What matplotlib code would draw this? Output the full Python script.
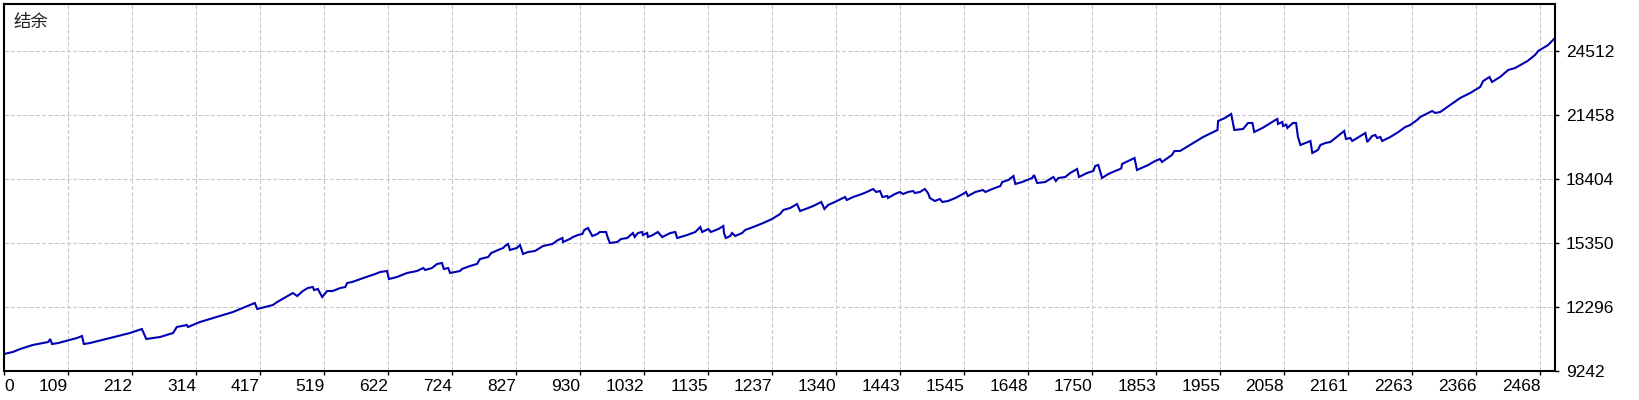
import matplotlib
matplotlib.use("Agg")
import matplotlib.pyplot as plt

# Balance curve (trade number, balance)
trade = [0, 14, 26, 46, 71, 74, 77, 87, 93, 117, 125, 128, 138, 170, 202, 221, 228, 250, 271, 277,
         293, 295, 314, 367, 402, 406, 431, 438, 463, 470, 479, 487, 495, 497, 503, 510, 518, 527,
         539, 547, 550, 558, 576, 595, 603, 614, 617, 630, 646, 662, 672, 675, 686, 694, 702, 705,
         712, 715, 723, 731, 734, 747, 758, 763, 776, 781, 792, 800, 803, 808, 811, 822, 827, 832,
         840, 851, 864, 879, 888, 895, 896, 907, 912, 920, 927, 930, 936, 943, 951, 955, 965, 968,
         971, 983, 989, 999, 1008, 1011, 1016, 1023, 1024, 1031, 1032, 1040, 1048, 1055, 1068, 1076,
         1079, 1095, 1108, 1116, 1119, 1129, 1133, 1145, 1153, 1154, 1157, 1164, 1167, 1172, 1183,
         1188, 1201, 1217, 1231, 1244, 1249, 1260, 1263, 1271, 1276, 1289, 1297, 1310, 1315, 1321,
         1335, 1348, 1351, 1361, 1375, 1383, 1393, 1398, 1404, 1408, 1416, 1417, 1428, 1436, 1441,
         1449, 1457, 1460, 1468, 1476, 1481, 1484, 1492, 1500, 1504, 1513, 1525, 1528, 1537, 1542,
         1545, 1557, 1569, 1573, 1584, 1597, 1600, 1610, 1618, 1621, 1632, 1648, 1651, 1656, 1669,
         1682, 1686, 1690, 1701, 1709, 1720, 1723, 1736, 1746, 1749, 1754, 1760, 1770, 1781, 1789,
         1791, 1792, 1802, 1812, 1816, 1834, 1845, 1853, 1856, 1872, 1876, 1885, 1909, 1922, 1945,
         1946, 1957, 1967, 1972, 1986, 1994, 2001, 2004, 2017, 2030, 2038, 2041, 2042, 2049, 2050,
         2054, 2055, 2057, 2066, 2071, 2074, 2078, 2090, 2094, 2097, 2106, 2110, 2118, 2126, 2138,
         2148, 2151, 2158, 2161, 2182, 2185, 2193, 2198, 2201, 2206, 2209, 2222, 2235, 2246, 2254,
         2265, 2270, 2289, 2294, 2302, 2318, 2334, 2350, 2366, 2371, 2381, 2385, 2398, 2411, 2422,
         2442, 2454, 2459, 2467, 2475, 2486]
balance = [10053, 10149, 10292, 10483, 10626, 10769, 10530, 10578, 10626, 10817, 10912, 10530, 10578,
           10817, 11055, 11246, 10769, 10864, 11055, 11342, 11437, 11342, 11580, 12057, 12487, 12201,
           12392, 12535, 12964, 12821, 13060, 13203, 13250, 13107, 13155, 12773, 13060, 13060, 13203,
           13250, 13441, 13489, 13680, 13871, 13966, 14014, 13632, 13728, 13919, 14014, 14157, 14062,
           14157, 14348, 14396, 14109, 14157, 13919, 13966, 14014, 14109, 14253, 14348, 14587, 14682,
           14873, 15016, 15112, 15207, 15302, 15016, 15112, 15255, 14825, 14921, 14968, 15207, 15302,
           15493, 15589, 15398, 15541, 15636, 15732, 15780, 15971, 16066, 15684, 15780, 15875, 15875,
           15589, 15350, 15398, 15541, 15589, 15827, 15636, 15827, 15875, 15732, 15827, 15636, 15732,
           15875, 15636, 15827, 15875, 15589, 15732, 15875, 16114, 15875, 16018, 15875, 16018, 16161,
           15827, 15589, 15684, 15827, 15684, 15827, 15971, 16114, 16305, 16495, 16734, 16925, 17020,
           17068, 17211, 16877, 17020, 17116, 17307, 16973, 17164, 17354, 17545, 17402, 17545, 17688,
           17784, 17927, 17784, 17832, 17545, 17593, 17498, 17688, 17784, 17688, 17784, 17832, 17736,
           17784, 17927, 17736, 17498, 17354, 17450, 17307, 17354, 17498, 17545, 17688, 17784, 17593,
           17784, 17879, 17784, 17927, 18070, 18261, 18357, 18547, 18166, 18261, 18452, 18595, 18213,
           18261, 18500, 18309, 18452, 18500, 18691, 18881, 18500, 18691, 18786, 19025, 19072, 18452,
           18643, 18786, 18881, 18929, 19120, 19263, 19406, 18834, 19072, 19263, 19359, 19215, 19550,
           19740, 19740, 20170, 20408, 20743, 21172, 21315, 21506, 20743, 20790, 21077, 21077, 20647,
           20838, 21077, 21220, 21267, 21029, 21124, 20933, 20981, 21029, 20838, 21077, 21077, 20408,
           20027, 20170, 20218, 19645, 19788, 20027, 20122, 20170, 20456, 20695, 20313, 20361, 20218,
           20599, 20170, 20456, 20504, 20361, 20408, 20218, 20408, 20647, 20886, 20981, 21220, 21363,
           21649, 21554, 21601, 21936, 22270, 22508, 22794, 23081, 23272, 23033, 23272, 23606, 23701,
           24035, 24322, 24512, 24656, 24799, 25133]

x_labels = ["0", "109", "212", "314", "417", "519", "622", "724", "827", "930", "1032", "1135",
            "1237", "1340", "1443", "1545", "1648", "1750", "1853", "1955", "2058", "2161", "2263",
            "2366", "2468"]
y_ticks = [9242, 12296, 15350, 18404, 21458, 24512]
title = "结余"

fig = plt.figure(figsize=(16.4, 4.0), dpi=100)
ax = fig.add_axes([4 / 1640, 29 / 400, 1551 / 1640, 367 / 400])

ax.plot(trade, balance, color="#0000b4", linewidth=1.5, solid_joinstyle="miter")

ax.set_xlim(0, 2486)
ax.set_ylim(9242, 26755)

step = 102.6
ax.set_xticks([i * step for i in range(len(x_labels))])
ax.set_xticklabels(x_labels, family="Liberation Sans", fontsize=12.5)
for i, lab in enumerate(ax.get_xticklabels()):
    lab.set_horizontalalignment("left" if i == 0 else "right")

ax.yaxis.tick_right()
ax.set_yticks(y_ticks)
ax.set_yticklabels([str(v) for v in y_ticks], family="Liberation Sans", fontsize=12.5)

ax.tick_params(axis="x", direction="out", length=3, width=1, pad=3, colors="black")
ax.tick_params(axis="y", direction="out", length=3, width=1, pad=5, colors="black")

ax.grid(True, color="#c8c8c8", linestyle=(0, (4, 2)), linewidth=0.75)
ax.set_axisbelow(True)

for s in ax.spines.values():
    s.set_linewidth(1.5)
    s.set_color("black")

ax.text(0.006, 0.975, title, transform=ax.transAxes, ha="left", va="top",
        family=["Noto Sans CJK SC", "DejaVu Sans"], fontsize=12.5, color="#202020")

fig.savefig("out.png", dpi=100, facecolor="white")
